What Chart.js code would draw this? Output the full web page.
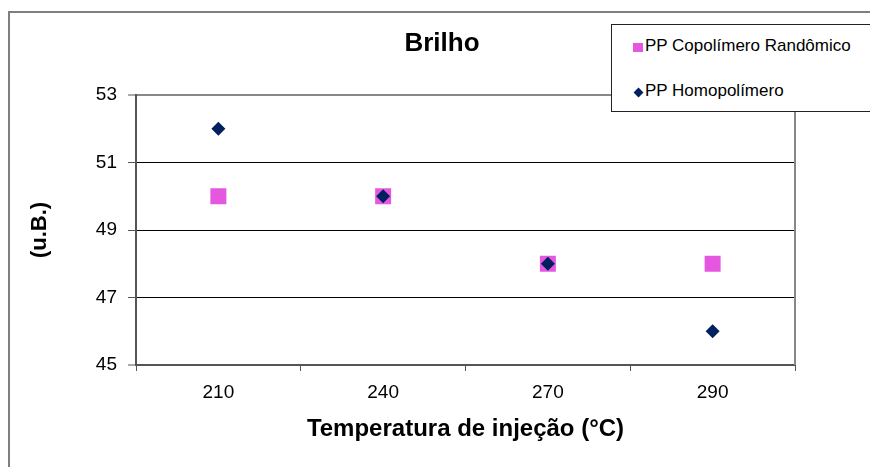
<!DOCTYPE html>
<html>
<head>
<meta charset="utf-8">
<script src="https://cdn.jsdelivr.net/npm/chart.js@4"></script>
<style>
    body { margin: 0; background: #fff; }
    #marco { position: relative; width: 870px; height: 467px; overflow: hidden; }
    #brilhoChart { position: absolute; left: 0; top: 0; }
    .moldura { position: absolute; left: 8px; top: 11px; width: 900px; height: 500px;
               border-left: 2px solid #7f7f7f; border-top: 2px solid #7f7f7f; }
    #legenda { position: absolute; left: 611px; top: 24px; width: 300px; height: 86px;
               border: 1px solid #222; background: #fff; }
    .item { position: absolute; left: 633px; height: 20px; line-height: 20px;
            font: 17px "Liberation Sans", Arial, sans-serif; color: #000; white-space: nowrap; }
    .quadrado { display: inline-block; width: 10px; height: 9px; background: #E657DF;
                margin-right: 2px; vertical-align: -1px; }
    .losango { display: inline-block; width: 7px; height: 7px; background: #00205F;
               transform: rotate(45deg); margin: 0 3px 0 2px; vertical-align: 0px; }
</style>
</head>
<body>
<div id="marco">
    <canvas id="brilhoChart" width="870" height="467"></canvas>
    <div class="moldura"></div>
    <div id="legenda"></div>
    <div class="item" style="top:36px"><span class="quadrado"></span>PP Copolímero Randômico</div>
    <div class="item" style="top:81px"><span class="losango"></span>PP Homopolímero</div>
</div>
<script>
// Dados do grafico
var temperaturas = ['210', '240', '270', '290']; // Categorias (°C)
var copolimero = [50, 50, 48, 48];               // PP Copolimero Randomico
var homopolimero = [52, 50, 48, 46];             // PP Homopolimero
var ticksY = [45, 47, 49, 51, 53];               // Marcas do eixo Y

window.onload = function () {

    var fonte = '"Liberation Sans", Arial, sans-serif';

    // Titulo e borda direita da area do grafico
    var moldura = {
        id: 'moldura',
        afterDraw: function (chart) {
            var ctx = chart.ctx;
            var area = chart.chartArea;
            ctx.save();
            ctx.strokeStyle = '#888';
            ctx.lineWidth = 2;
            ctx.beginPath();
            ctx.moveTo(area.right, area.top);
            ctx.lineTo(area.right, area.bottom);
            ctx.stroke();
            ctx.fillStyle = '#000';
            ctx.font = 'bold 26px ' + fonte;
            ctx.textAlign = 'center';
            ctx.textBaseline = 'middle';
            ctx.fillText('Brilho', 442, 44);
            ctx.restore();
        }
    };

    var brilhoCtx = document.getElementById('brilhoChart');

    var config = {
        type: 'line',
        data: {
            labels: temperaturas,
            datasets: [{
                label: 'PP Copolímero Randômico',
                data: copolimero,
                showLine: false,
                pointStyle: 'rect',
                pointRadius: 11.3,
                pointHoverRadius: 11.3,
                pointBorderWidth: 0,
                backgroundColor: '#E657DF',
                borderColor: '#E657DF',
                order: 2
            }, {
                label: 'PP Homopolímero',
                data: homopolimero,
                showLine: false,
                pointStyle: 'rectRot',
                pointRadius: 7,
                pointHoverRadius: 7,
                pointBorderWidth: 0,
                backgroundColor: '#00205F',
                borderColor: '#00205F',
                order: 1
            }]
        },
        options: {
            responsive: false,
            animation: false,
            layout: { padding: { top: 95, right: 75, left: 0, bottom: 0 } },
            plugins: {
                legend: { display: false },
                tooltip: { enabled: false }
            },
            scales: {
                x: {
                    type: 'category',
                    offset: true,
                    afterFit: function (scale) { scale.height = 102; },
                    grid: {
                        offset: true,
                        drawOnChartArea: false,
                        drawTicks: true,
                        tickLength: 6,
                        tickColor: '#555',
                        tickWidth: 1
                    },
                    border: { display: true, color: '#555', width: 2 },
                    ticks: {
                        color: '#000',
                        padding: 10,
                        font: { family: fonte, size: 19 }
                    },
                    title: {
                        display: true,
                        text: 'Temperatura de injeção (°C)',
                        color: '#000',
                        font: { family: fonte, size: 24, weight: 'bold' },
                        padding: { top: 0, bottom: 23 }
                    }
                },
                y: {
                    min: 45,
                    max: 53,
                    afterFit: function (scale) { scale.width = 136; },
                    afterBuildTicks: function (scale) {
                        scale.ticks = ticksY.map(function (v) { return { value: v }; });
                    },
                    grid: {
                        color: function (c) {
                            if (c.tick && c.tick.value === 53) return '#888';
                            if (c.tick && c.tick.value === 45) return '#555';
                            return '#000';
                        },
                        lineWidth: function (c) {
                            if (c.tick && (c.tick.value === 53 || c.tick.value === 45)) return 2;
                            return 1;
                        },
                        tickLength: 8,
                        tickColor: '#555',
                        tickWidth: 1
                    },
                    border: { display: true, color: '#555', width: 2 },
                    ticks: {
                        color: '#000',
                        padding: 11,
                        font: { family: fonte, size: 19 }
                    },
                    title: {
                        display: true,
                        text: '(u.B.)',
                        color: '#000',
                        font: { family: fonte, size: 22, weight: 'bold' },
                        padding: { top: 27, bottom: 0 }
                    }
                }
            }
        },
        plugins: [moldura]
    };

    window.myChart = new Chart(brilhoCtx, config);
};
</script>
</body>
</html>
